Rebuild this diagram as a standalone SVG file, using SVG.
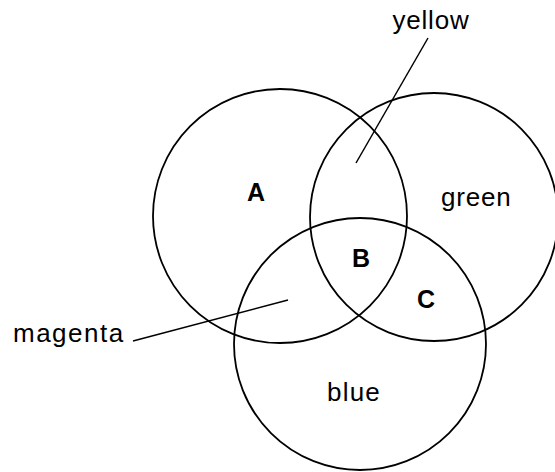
<svg xmlns="http://www.w3.org/2000/svg" width="555" height="472" viewBox="0 0 555 472">
<style>
.c{fill:none;stroke:#000;stroke-width:1.8}
.l{fill:none;stroke:#000;stroke-width:1.5}
.t{font-family:"Liberation Sans",Arial,sans-serif;font-size:26px;fill:#000}
.b{font-family:"Liberation Sans",Arial,sans-serif;font-size:25px;font-weight:bold;fill:#000}
</style>
<rect width="555" height="472" fill="#fff"/>
<g id="circleA"><circle class="c" cx="280" cy="216" r="127"/></g>
<g id="circleGreen"><circle class="c" cx="434" cy="217" r="124"/></g>
<g id="circleBlue"><circle class="c" cx="360" cy="344" r="126"/></g>
<g id="connectors">
<line class="l" x1="428" y1="38" x2="356" y2="163"/>
<line class="l" x1="133" y1="341" x2="288" y2="300"/>
</g>
<g id="labels">
<text class="t" x="431" y="29" text-anchor="middle" letter-spacing="0.8">yellow</text>
<text class="t" x="13" y="342" letter-spacing="1.5">magenta</text>
<text class="t" x="441" y="206" letter-spacing="0.8">green</text>
<text class="t" x="327" y="401" letter-spacing="1.2">blue</text>
<text class="b" x="256" y="201" text-anchor="middle">A</text>
<text class="b" x="361" y="267" text-anchor="middle">B</text>
<text class="b" x="426" y="308" text-anchor="middle">C</text>
</g>
</svg>
